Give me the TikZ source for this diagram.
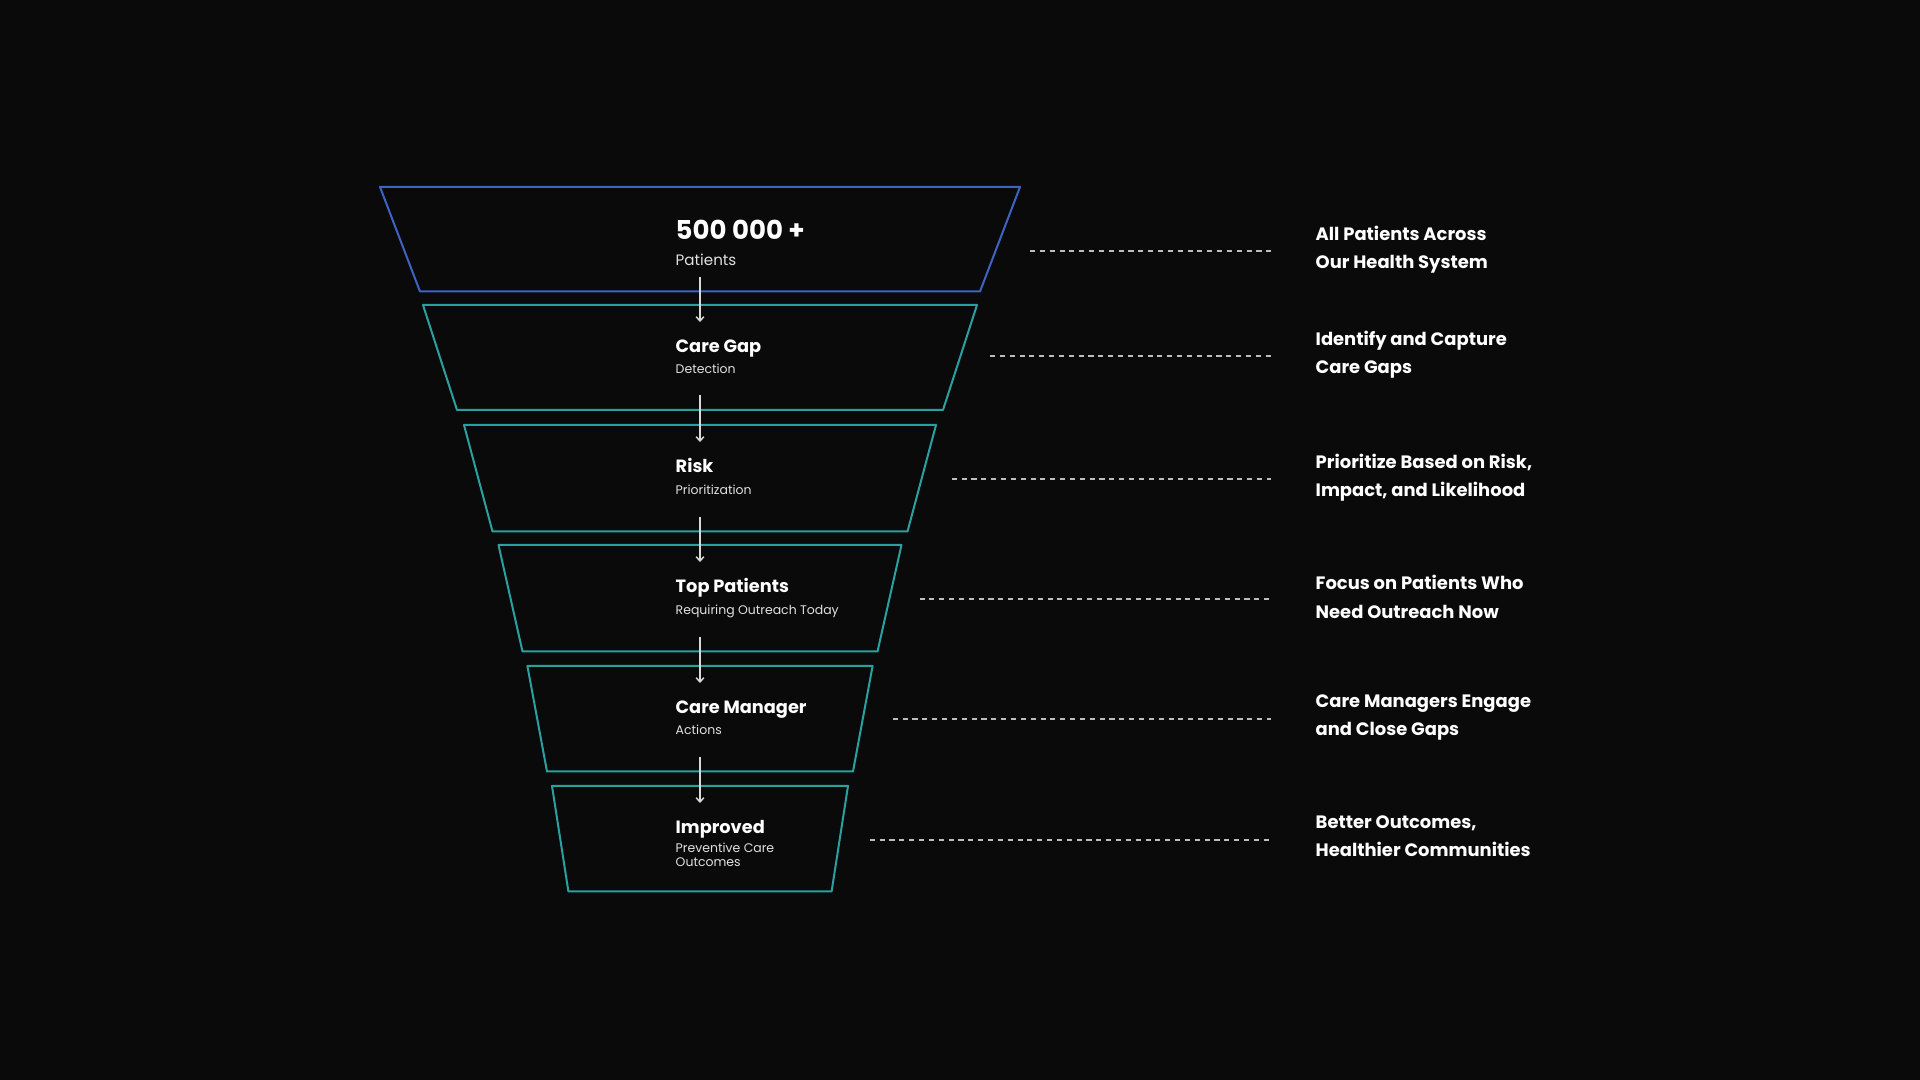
\documentclass[tikz,border=0pt]{standalone}
\usepackage{fontspec}
\setmainfont{Poppins}
\usetikzlibrary{arrows.meta}
\definecolor{bgdark}{HTML}{0A0A0A}
\definecolor{funnelblue}{HTML}{3F63C4}
\definecolor{funnelteal}{HTML}{2AA0A0}
\definecolor{guidegray}{HTML}{BDBDBD}
\tikzset{
  stage/.style={line width=0.57pt, line join=round},
  bigtitle/.style={anchor=base west, inner sep=0pt, text=white, font=\bfseries\fontsize{7.4}{8}\selectfont},
  title/.style={anchor=base west, inner sep=0pt, text=white, font=\bfseries\fontsize{5.05}{6}\selectfont},
  sub/.style={anchor=base west, inner sep=0pt, text=white!88!black, align=left, font=\fontsize{3.55}{4.2}\selectfont},
  goal/.style={anchor=west, inner sep=0pt, text=white, align=left, font=\bfseries\fontsize{5.1}{8.1}\selectfont},
  flow/.style={-{Straight Barb[length=1.2pt,width=2.2pt]}, line width=0.42pt, draw=white!85!black},
  guide/.style={line width=0.55pt, draw=guidegray, dash pattern=on 1.45pt off 1.35pt}
}
\begin{document}
\begin{tikzpicture}[x=0.01cm,y=-0.01cm]
\fill[bgdark] (0,0) rectangle (1920,1080);
% funnel stages: number/top/top half width/bottom half width/bottom/guide y/colour
\foreach \i/\yt/\wt/\wb/\yb/\yd/\col in {1/187/320/280/291.5/251/funnelblue,
  2/305/277/243/410/356/funnelteal, 3/425/236/207.5/531.5/479/funnelteal,
  4/545/201.5/177.5/651.5/599/funnelteal, 5/666/172.6/153/771.5/719/funnelteal,
  6/786/148/131.6/891.5/840/funnelteal}{
  \draw[stage,draw=\col] (700-\wt,\yt) -- (700+\wt,\yt) -- (700+\wb,\yb) -- (700-\wb,\yb) -- cycle;
  \coordinate (out\i) at (700,\yb-14.5);
  \coordinate (in\i) at (700,\yt+17);
  \coordinate (d\i) at ({700+(\wt+\wb)/2+30},\yd);
  \coordinate (e\i) at (1271,\yd);
}
\node[bigtitle] (t1) at (675,240) {500 000 +};
\node[sub,font=\fontsize{4.3}{5}\selectfont] (s1) at (675,266) {Patients};
\node[title] (t2) at (675,352.5) {Care Gap};
\node[sub] (s2) at (675,374) {Detection};
\node[title] (t3) at (675,473) {Risk};
\node[sub] (s3) at (675,495) {Prioritization};
\node[title] (t4) at (675,593) {Top Patients};
\node[sub] (s4) at (675,614.5) {Requiring Outreach Today};
\node[title] (t5) at (675,713.5) {Care Manager};
\node[sub] (s5) at (675,735) {Actions};
\node[title] (t6) at (675,833.5) {Improved};
\node[sub] (s6) at (675,867) {Preventive Care\\Outcomes};
% what each stage means
\node[goal] (r1) at (1315,249.5) {All Patients Across\\Our Health System};
\node[goal] (r2) at (1315,354.5) {Identify and Capture\\Care Gaps};
\node[goal] (r3) at (1315,477.5) {Prioritize Based on Risk,\\Impact, and Likelihood};
\node[goal] (r4) at (1315,597) {Focus on Patients Who\\Need Outreach Now};
\node[goal] (r5) at (1315,717.5) {Care Managers Engage\\and Close Gaps};
\node[goal] (r6) at (1315,836) {Better Outcomes,\\Healthier Communities};
\foreach \i/\j in {1/2,2/3,3/4,4/5,5/6}
  \draw[flow] (out\i) -- (in\j);
\foreach \i in {1,...,6}
  \draw[guide] (d\i) -- (e\i);
\end{tikzpicture}
\end{document}
